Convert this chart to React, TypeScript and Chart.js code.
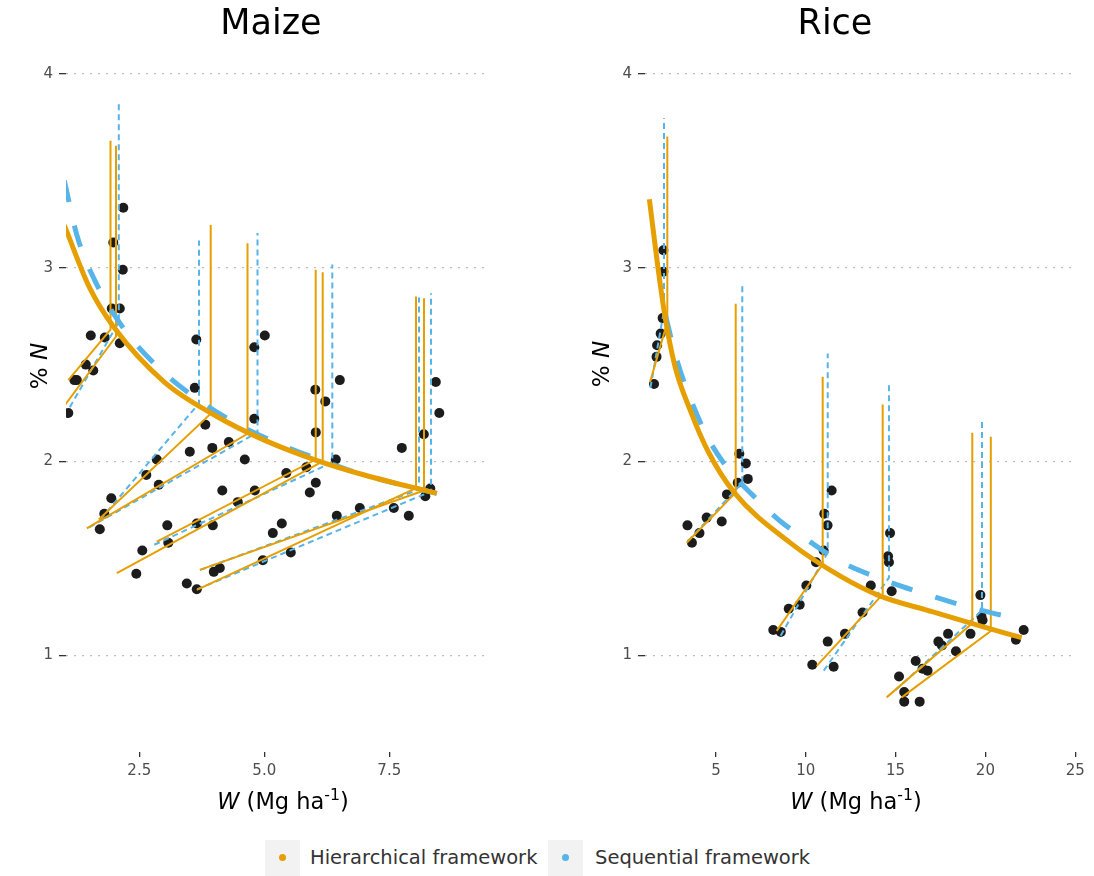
import React, { useEffect, useRef } from "react";
import { Chart, registerables } from "chart.js";

Chart.register(...registerables);

const FONT = "'DejaVu Sans', sans-serif";
const ORANGE = "#E69F00";
const BLUE = "#56B4E9";
const POINT = "#1c1c1c";

// ---------------- Maize ----------------
// observed points: W (Mg/ha) and %N
const MAIZE_W = [2.18, 1.98, 2.17, 1.95, 2.11, 1.53, 1.81, 2.11, 1.43, 1.58, 1.20, 1.25, 1.08, 3.64, 3.61, 3.82, 3.51, 3.96, 4.29, 4.61, 4.80, 5.01, 4.80, 2.85, 2.64, 2.89, 1.94, 1.80, 1.71, 4.16, 4.47, 4.81, 3.06, 3.65, 3.97, 3.08, 2.56, 2.44, 3.45, 3.65, 3.99, 4.11, 4.97, 5.53, 5.17, 5.35, 5.44, 5.84, 6.03, 5.91, 6.02, 6.22, 6.03, 6.51, 6.43, 6.45, 6.91, 7.59, 7.89, 7.75, 8.19, 8.43, 8.50, 8.32, 8.22];
const MAIZE_N = [3.31, 3.13, 2.99, 2.79, 2.79, 2.65, 2.64, 2.61, 2.50, 2.47, 2.42, 2.42, 2.25, 2.63, 2.38, 2.19, 2.05, 2.07, 2.10, 2.01, 2.59, 2.65, 2.22, 2.01, 1.93, 1.88, 1.81, 1.73, 1.65, 1.85, 1.79, 1.85, 1.67, 1.68, 1.67, 1.58, 1.54, 1.42, 1.37, 1.34, 1.43, 1.45, 1.49, 1.53, 1.63, 1.68, 1.94, 1.97, 1.89, 1.84, 2.37, 2.31, 2.15, 2.42, 2.01, 1.72, 1.76, 1.76, 1.72, 2.07, 2.14, 2.41, 2.25, 1.86, 1.82];
// critical N dilution curves
const MAIZE_HIER_CURVE_W = [1.0, 1.5, 2.0, 3.0, 4.0, 5.0, 6.0, 7.0, 8.45];
const MAIZE_HIER_CURVE_N = [3.22, 2.90, 2.69, 2.41, 2.24, 2.11, 2.01, 1.93, 1.835];
const MAIZE_SEQ_CURVE_W = [1.0, 1.25, 1.6, 2.15, 2.78, 3.56, 4.41, 5.35, 6.2, 7.0, 8.45];
const MAIZE_SEQ_CURVE_N = [3.45, 3.17, 2.94, 2.70, 2.51, 2.34, 2.20, 2.085, 2.0, 1.93, 1.835];
// per-sampling linear-plateau lines: [W low, N low, W corner, N corner, N top]
const MAIZE_HIER_GROUPS = [
  [1.08, 2.42, 1.924, 2.68, 3.656],
  [1.01, 2.29, 2.034, 2.645, 3.63],
  [1.69, 1.70, 3.928, 2.247, 3.221],
  [1.45, 1.655, 4.664, 2.143, 3.127],
  [2.85, 1.586, 6.028, 2.01, 2.99],
  [2.05, 1.423, 6.168, 2.0, 2.977],
  [3.65, 1.337, 8.034, 1.862, 2.852],
  [3.71, 1.44, 8.194, 1.85, 2.843],
];
const MAIZE_SEQ_GROUPS = [
  [1.11, 2.28, 2.09, 2.72, 3.845],
  [1.72, 1.70, 3.694, 2.30, 3.141],
  [1.5, 1.66, 4.864, 2.15, 3.18],
  [2.8, 1.57, 6.36, 1.995, 3.017],
  [3.72, 1.44, 8.094, 1.855, 2.847],
  [3.66, 1.34, 8.334, 1.845, 2.869],
];
const MAIZE_X_TICKS = [2.5, 5, 7.5];
const MAIZE_X_LABELS = ["2.5", "5.0", "7.5"];

// ---------------- Rice ----------------
const RICE_W = [2.07, 2.07, 2.03, 1.92, 1.72, 1.69, 1.55, 6.30, 6.66, 6.77, 6.21, 5.61, 3.41, 4.48, 5.32, 4.08, 3.66, 11.44, 11.03, 11.21, 10.99, 10.57, 10.03, 9.66, 9.05, 8.19, 8.61, 14.69, 14.58, 14.63, 14.78, 13.62, 13.16, 12.18, 11.22, 10.36, 11.55, 19.72, 19.78, 19.84, 19.17, 17.92, 17.38, 17.58, 18.36, 16.12, 16.50, 16.78, 15.19, 15.48, 15.48, 16.34, 22.13, 21.70];
const RICE_N = [3.09, 2.98, 2.74, 2.66, 2.60, 2.54, 2.40, 2.04, 1.99, 1.91, 1.89, 1.83, 1.67, 1.71, 1.69, 1.63, 1.58, 1.85, 1.73, 1.67, 1.54, 1.48, 1.36, 1.26, 1.24, 1.13, 1.12, 1.63, 1.51, 1.48, 1.33, 1.36, 1.22, 1.11, 1.07, 0.95, 0.94, 1.31, 1.20, 1.18, 1.11, 1.11, 1.07, 1.05, 1.02, 0.97, 0.93, 0.92, 0.89, 0.81, 0.76, 0.76, 1.13, 1.08];
const RICE_HIER_CURVE_W = [1.29, 1.70, 2.16, 2.72, 3.55, 4.57, 6.02, 9.12, 11.9, 14.12, 16.9, 19.7, 22.02];
const RICE_HIER_CURVE_N = [3.354, 3.05, 2.749, 2.49, 2.268, 2.05, 1.839, 1.581, 1.409, 1.306, 1.228, 1.151, 1.09];
const RICE_SEQ_CURVE_W = [2.2, 2.8, 3.55, 4.5, 5.6, 7.0, 8.6, 10.0, 12.0, 14.0, 16.5, 19.0, 22.1];
const RICE_SEQ_CURVE_N = [2.75, 2.53, 2.33, 2.13, 1.97, 1.83, 1.69, 1.60, 1.48, 1.40, 1.32, 1.25, 1.18];
const RICE_HIER_GROUPS = [
  [1.33, 2.41, 2.29, 2.72, 3.677],
  [3.37, 1.58, 6.097, 1.839, 2.814],
  [8.38, 1.125, 10.94, 1.469, 2.437],
  [10.61, 0.945, 14.28, 1.314, 2.294],
  [14.5, 0.782, 19.27, 1.165, 2.148],
  [15.34, 0.782, 20.3, 1.125, 2.127],
];
const RICE_SEQ_GROUPS = [
  [1.35, 2.38, 2.105, 2.78, 3.772],
  [3.45, 1.59, 6.464, 1.89, 2.912],
  [8.6, 1.10, 11.22, 1.53, 2.557],
  [11.0, 0.92, 14.63, 1.40, 2.409],
  [15.0, 0.82, 19.81, 1.23, 2.216],
];
const RICE_X_TICKS = [5, 10, 15, 20, 25];
const RICE_X_LABELS = ["5", "10", "15", "20", "25"];

const Y_TICKS = [1, 2, 3, 4];

interface PanelSpec {
  obsW: number[];
  obsN: number[];
  hierW: number[];
  hierN: number[];
  seqW: number[];
  seqN: number[];
  hierGroups: number[][];
  seqGroups: number[][];
  xMin: number;
  xMax: number;
  xTicks: number[];
  xLabels: string[];
  yAxisWidth: number;
  padRight: number;
}

function buildConfig(s: PanelSpec): any {
  const xy = (ws: number[], ns: number[]) => ws.map((w, i) => ({ x: w, y: ns[i] }));
  const grp = (g: number[]) => [
    { x: g[0], y: g[1] },
    { x: g[2], y: g[3] },
    { x: g[2], y: g[4] },
  ];
  const datasets: any[] = [];
  datasets.push({
    label: "hier-curve",
    data: xy(s.hierW, s.hierN),
    showLine: true,
    borderColor: ORANGE,
    borderWidth: 5,
    pointRadius: 0,
    cubicInterpolationMode: "monotone",
    order: 0,
  });
  datasets.push({
    label: "seq-curve",
    data: xy(s.seqW, s.seqN),
    showLine: true,
    borderColor: BLUE,
    borderWidth: 5,
    borderDash: [22, 24],
    pointRadius: 0,
    cubicInterpolationMode: "monotone",
    order: 1,
  });
  s.hierGroups.forEach((g, i) =>
    datasets.push({
      label: "hier-" + i,
      data: grp(g),
      showLine: true,
      borderColor: ORANGE,
      borderWidth: 2,
      pointRadius: 0,
      order: 2,
    })
  );
  s.seqGroups.forEach((g, i) =>
    datasets.push({
      label: "seq-" + i,
      data: grp(g),
      showLine: true,
      borderColor: BLUE,
      borderWidth: 2,
      borderDash: [6, 4],
      pointRadius: 0,
      order: 3,
    })
  );
  datasets.push({
    label: "obs",
    data: xy(s.obsW, s.obsN),
    showLine: false,
    pointRadius: 5,
    pointBackgroundColor: POINT,
    pointBorderWidth: 0,
    order: 4,
  });

  return {
    type: "scatter",
    data: { datasets },
    options: {
      responsive: false,
      animation: false,
      events: [],
      layout: { padding: { left: 0, right: s.padRight, top: 14, bottom: 0 } },
      plugins: { legend: { display: false }, tooltip: { enabled: false }, title: { display: false } },
      scales: {
        x: {
          type: "linear",
          min: s.xMin,
          max: s.xMax,
          afterBuildTicks: (axis: any) => {
            axis.ticks = s.xTicks.map((v) => ({ value: v }));
          },
          afterFit: (axis: any) => {
            axis.height = 38;
          },
          grid: {
            display: true,
            drawOnChartArea: false,
            drawTicks: true,
            tickLength: 5,
            tickColor: "#333333",
            lineWidth: 1.3,
          },
          border: { display: false },
          ticks: {
            font: { size: 15, family: FONT },
            color: "#4d4d4d",
            padding: 5,
            maxRotation: 0,
            autoSkip: false,
            callback: (_v: any, i: number) => s.xLabels[i],
          },
        },
        y: {
          type: "linear",
          min: 0.5,
          max: 4.15,
          afterBuildTicks: (axis: any) => {
            axis.ticks = Y_TICKS.map((v) => ({ value: v }));
          },
          afterFit: (axis: any) => {
            axis.width = s.yAxisWidth;
          },
          grid: {
            display: true,
            drawOnChartArea: true,
            drawTicks: true,
            tickLength: 7,
            color: "#bdbdbd",
            tickColor: "#333333",
            lineWidth: 1.3,
            tickBorderDash: [],
          },
          border: { display: false, dash: [2, 6] },
          ticks: {
            font: { size: 15, family: FONT },
            color: "#4d4d4d",
            padding: 6,
            callback: (v: any) => String(v),
          },
        },
      },
    },
  };
}

function Panel(props: { spec: PanelSpec; left: number; top: number; width: number; height: number }) {
  const ref = useRef<HTMLCanvasElement>(null);
  useEffect(() => {
    const chart = new Chart(ref.current as HTMLCanvasElement, buildConfig(props.spec));
    return () => chart.destroy();
  }, []);
  return (
    <canvas
      ref={ref}
      width={props.width}
      height={props.height}
      style={{ position: "absolute", left: props.left, top: props.top, width: props.width, height: props.height }}
    />
  );
}

const maizeSpec: PanelSpec = {
  obsW: MAIZE_W,
  obsN: MAIZE_N,
  hierW: MAIZE_HIER_CURVE_W,
  hierN: MAIZE_HIER_CURVE_N,
  seqW: MAIZE_SEQ_CURVE_W,
  seqN: MAIZE_SEQ_CURVE_N,
  hierGroups: MAIZE_HIER_GROUPS,
  seqGroups: MAIZE_SEQ_GROUPS,
  xMin: 1.034,
  xMax: 9.514,
  xTicks: MAIZE_X_TICKS,
  xLabels: MAIZE_X_LABELS,
  yAxisWidth: 46,
  padRight: 20,
};

const riceSpec: PanelSpec = {
  obsW: RICE_W,
  obsN: RICE_N,
  hierW: RICE_HIER_CURVE_W,
  hierN: RICE_HIER_CURVE_N,
  seqW: RICE_SEQ_CURVE_W,
  seqN: RICE_SEQ_CURVE_N,
  hierGroups: RICE_HIER_GROUPS,
  seqGroups: RICE_SEQ_GROUPS,
  xMin: 1.047,
  xMax: 25.1,
  xTicks: RICE_X_TICKS,
  xLabels: RICE_X_LABELS,
  yAxisWidth: 45,
  padRight: 17,
};

const txt: React.CSSProperties = { position: "absolute", fontFamily: FONT, whiteSpace: "nowrap" };

function XTitle({ cx }: { cx: number }) {
  return (
    <div style={{ ...txt, left: cx - 120, width: 240, top: 786, textAlign: "center", fontSize: 22.5, lineHeight: "30px", color: "#000" }}>
      <i>W</i> (Mg ha
      <span style={{ fontSize: "0.7em", position: "relative", top: "-0.6em" }}>-1</span>)
    </div>
  );
}

function YTitle({ cx, cy }: { cx: number; cy: number }) {
  return (
    <div
      style={{
        ...txt,
        left: cx - 60,
        top: cy - 15,
        width: 120,
        height: 30,
        lineHeight: "30px",
        textAlign: "center",
        fontSize: 23,
        color: "#000",
        transform: "rotate(-90deg)",
      }}
    >
      % <i>N</i>
    </div>
  );
}

function Title({ cx, text }: { cx: number; text: string }) {
  return (
    <div style={{ ...txt, left: cx - 150, width: 300, top: 0, textAlign: "center", fontSize: 35, lineHeight: "44px", color: "#000" }}>
      {text}
    </div>
  );
}

function LegendKey({ left, color }: { left: number; color: string }) {
  return (
    <div style={{ position: "absolute", left, top: 840, width: 35, height: 36, background: "#f2f2f2" }}>
      <div style={{ position: "absolute", left: 14, top: 14, width: 7, height: 7, borderRadius: "50%", background: color }} />
    </div>
  );
}

export default function App() {
  return (
    <div style={{ position: "absolute", left: 0, top: 0, width: 1094, height: 876, background: "#fff", overflow: "hidden" }}>
      <Panel spec={maizeSpec} left={20} top={30} width={490} height={760} />
      <Panel spec={riceSpec} left={600} top={30} width={494} height={760} />
      <Title cx={271} text="Maize" />
      <Title cx={835} text="Rice" />
      <YTitle cx={39} cy={366} />
      <YTitle cx={601} cy={364} />
      <XTitle cx={283} />
      <XTitle cx={856} />
      <LegendKey left={265} color={ORANGE} />
      <div style={{ ...txt, left: 310, top: 845, fontSize: 19.5, lineHeight: "26px", color: "#333" }}>Hierarchical framework</div>
      <LegendKey left={548} color={BLUE} />
      <div style={{ ...txt, left: 595, top: 845, fontSize: 19.5, lineHeight: "26px", color: "#333" }}>Sequential framework</div>
    </div>
  );
}
